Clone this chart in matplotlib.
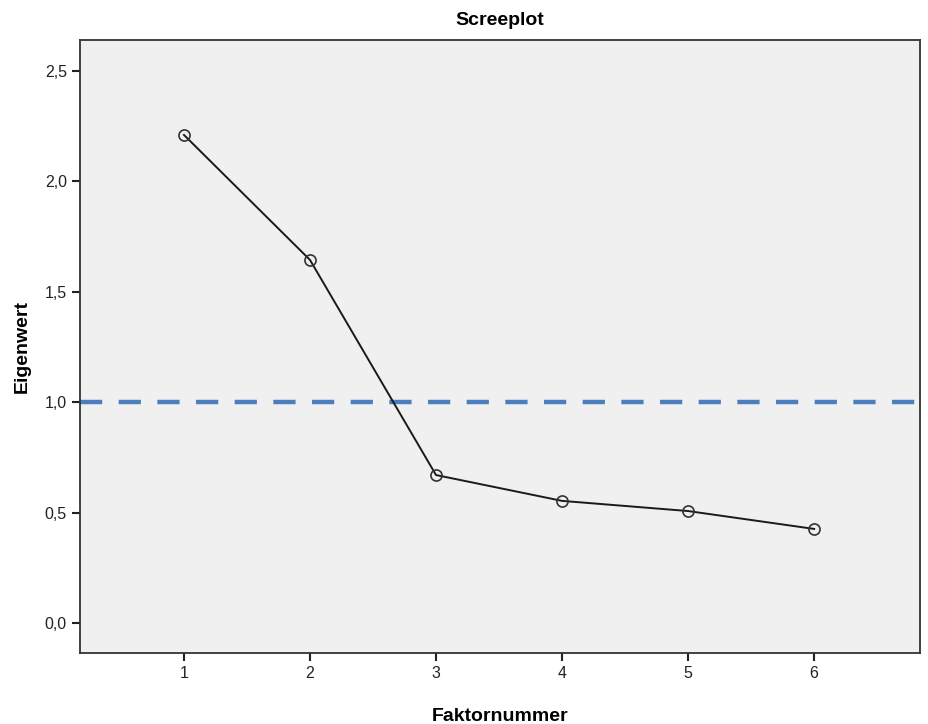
import matplotlib
matplotlib.use("Agg")
import matplotlib.pyplot as plt
from matplotlib.ticker import FuncFormatter

plt.rcParams['font.family'] = ['Liberation Sans', 'DejaVu Sans']

# Daten
faktoren = [1, 2, 3, 4, 5, 6]
eigenwerte = [2.21, 1.644, 0.670, 0.553, 0.507, 0.426]
kaiser_grenze = 1.0
y_ticks = [0.0, 0.5, 1.0, 1.5, 2.0, 2.5]

fig = plt.figure(figsize=(9.29, 7.24), dpi=100)
ax = fig.add_axes([0.0861, 0.098, 0.9042, 0.8468])
ax.set_facecolor('#f0f0f0')

ax.axhline(kaiser_grenze, color='#4a7ebf', linewidth=3.2, dashes=(5, 3.7), zorder=2)
ax.plot(faktoren, eigenwerte, color='#1a1a1a', linewidth=1.4, marker='o',
        markersize=8, markerfacecolor='none', markeredgecolor='#333333',
        markeredgewidth=1.2, zorder=3)

ax.set_xlim(0.175, 6.84)
ax.set_ylim(-0.136, 2.64)
ax.set_xticks(faktoren)
ax.set_yticks(y_ticks)
ax.yaxis.set_major_formatter(FuncFormatter(lambda v, p: f"{v:.1f}".replace('.', ',')))
ax.tick_params(direction='out', length=6, width=1.5, labelsize=11.5, colors='#222222')

for s in ax.spines.values():
    s.set_linewidth(1.3)
    s.set_color('#333333')

ax.set_title('Screeplot', fontsize=14, fontweight='bold', pad=11)
ax.set_xlabel('Faktornummer', fontsize=14, fontweight='bold', labelpad=19)
ax.set_ylabel('Eigenwert', fontsize=14, fontweight='bold', labelpad=10)

fig.savefig('out.png', dpi=100, facecolor='white')
